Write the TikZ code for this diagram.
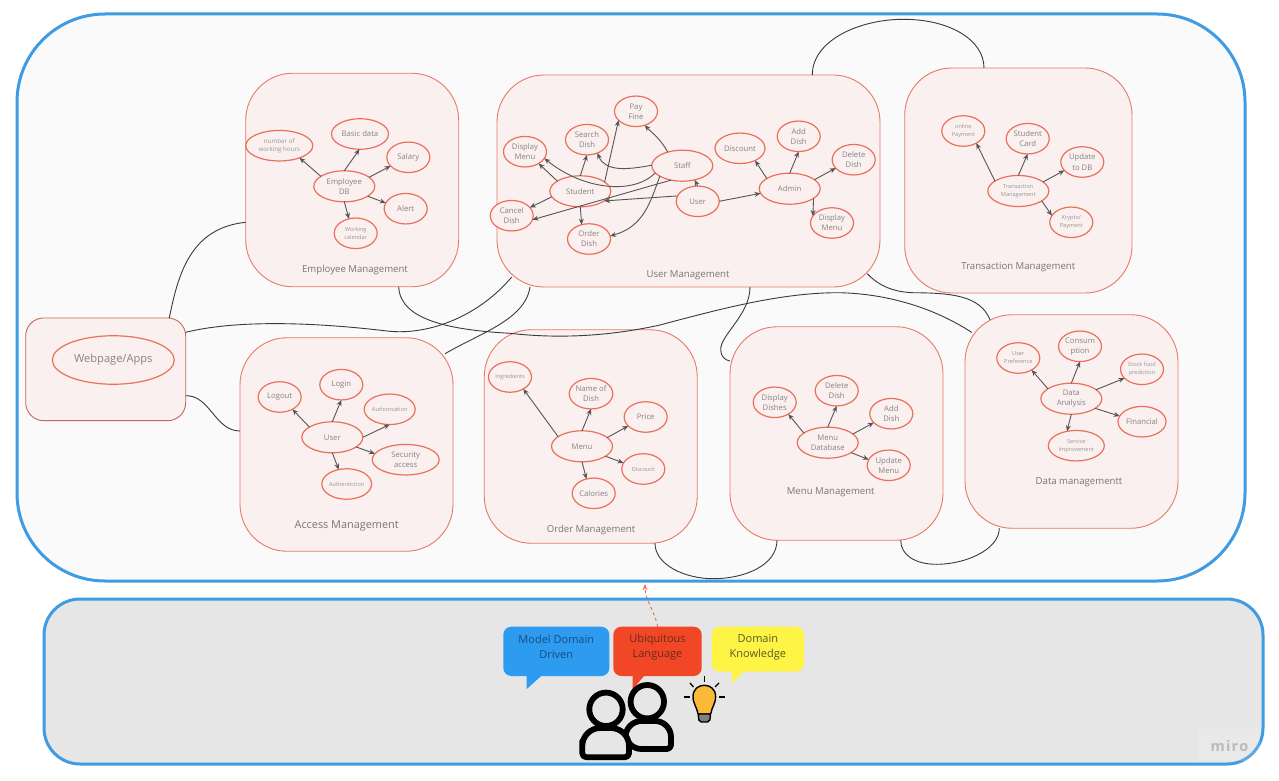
\documentclass[tikz,border=0pt]{standalone}
\usepackage{fontspec}
\setmainfont{Open Sans}
\usetikzlibrary{shapes.geometric,arrows.meta}
\definecolor{frameblue}{HTML}{3F9BE2}
\definecolor{panelfill}{HTML}{FAFAFA}
\definecolor{basefill}{HTML}{E6E6E6}
\definecolor{boxline}{HTML}{E97A68}
\definecolor{boxfill}{HTML}{F9F0EF}
\definecolor{elline}{HTML}{EC6F5C}
\definecolor{txtgray}{HTML}{878383}
\definecolor{arrowgray}{HTML}{555555}
\definecolor{wire}{HTML}{3A3A3A}
\definecolor{bubblueC}{HTML}{2D9BF0}
\definecolor{bubredC}{HTML}{F24726}
\definecolor{bubyelC}{HTML}{FEF445}
\definecolor{bulbC}{HTML}{FBB938}
\definecolor{txtblue}{HTML}{1A4C80}
\definecolor{txtred}{HTML}{6B2A1C}
\definecolor{txtyel}{HTML}{5E5A22}
\tikzset{
  framebox/.style={draw=frameblue,line width=3pt,rectangle,inner sep=0pt,outer sep=0pt},
  boxnode/.style={draw=boxline,fill=boxfill,line width=0.9pt,rectangle,rounded corners=47pt,inner sep=0pt,outer sep=0pt,minimum width=213pt,minimum height=213.5pt},
  ell/.style={draw=elline,fill=boxfill,line width=1.2pt,ellipse,inner sep=0pt,outer sep=0pt,minimum width=43pt,minimum height=30.5pt,text=txtgray,align=center,font=\fontsize{7.7}{10}\selectfont},
  ellbig/.style={ell,minimum width=61pt,minimum height=31pt},
  tiny/.style={font=\fontsize{5.6}{8}\selectfont,text=txtgray!85!white},
  titlelab/.style={text=txtgray!90!black,inner sep=0pt,font=\fontsize{9.6}{12}\selectfont},
  arr/.style={draw=arrowgray,line width=0.9pt,-{Stealth[length=6pt,width=5pt]}},
  wireline/.style={draw=wire,line width=0.9pt},
  bubble/.style={rectangle,rounded corners=8pt,inner sep=0pt,outer sep=0pt},
  bubtext/.style={inner sep=0pt,align=center,font=\fontsize{11}{15.3}\selectfont},
  person/.style={draw=black,fill=basefill,line width=5.8pt,line join=round},
  ray/.style={draw=black,line width=1.3pt}
}
\begin{document}
\begin{tikzpicture}[x=1pt,y=-1pt]
\useasboundingbox (0,0) rectangle (1279,781);
\fill[white] (0,0) rectangle (1279,781);
% frames
\node[framebox,fill=panelfill,rounded corners=88pt,minimum width=1228pt,minimum height=567pt] (outer) at (631,297.5) {};
\node[framebox,fill=basefill,rounded corners=36pt,minimum width=1219pt,minimum height=165pt] (base) at (653.5,681.5) {};
% miro mark
\node[fill=white,fill opacity=0.15,minimum width=62pt,minimum height=32pt,inner sep=0pt] (miropatch) at (1229,745) {};
\node[text=black!27,inner sep=0pt,font=\fontsize{14.5}{16}\bfseries\selectfont] (miro) at (1229.5,746) {m\kern1.2pt i\kern1.2pt r\kern1.2pt o};
% containers
\node[boxnode,rounded corners=18pt,draw=boxline!85!black,minimum width=160pt,minimum height=102.7pt] (web) at (105.7,369.3) {};
\node[boxnode] (emp) at (352.2,180) {};
\node[boxnode,minimum width=383pt,minimum height=212pt] (usr) at (688.5,181) {};
\node[boxnode,minimum width=227.3pt,minimum height=225pt] (trn) at (1018.35,180.5) {};
\node[boxnode] (dat) at (1071.5,421.5) {};
\node[boxnode] (ord) at (590.75,436.5) {};
\node[boxnode] (mnu) at (836.5,433.5) {};
\node[boxnode] (acc) at (346.5,444.5) {};
% webpage
\node[ell,minimum width=122pt,minimum height=48.5pt,font=\fontsize{11.1}{14}\selectfont] (webel) at (113.3,360) {Webpage/Apps};
% titles
\node[titlelab] (t1) at (355,270) {Employee Management};
\node[titlelab] (t2) at (688,275) {User Management};
\node[titlelab] (t3) at (1018.3,267) {Transaction Management};
\node[titlelab] (t4) at (1079,482) {Data managementt};
\node[titlelab] (t5) at (591,530) {Order Management};
\node[titlelab] (t6) at (830.7,492) {Menu Management};
\node[titlelab,font=\fontsize{10.9}{12}\selectfont] (t7) at (346.7,525.5) {Access Management};
% employee
\node[ellbig] (e0) at (344.3,186.3) {Employee\\DB};
\node[ell,tiny,font=\fontsize{6.2}{8}\selectfont,minimum width=67pt] (e1) at (279.3,145.7) {number of\\working hours};
\node[ell,minimum width=57pt] (e2) at (360,134) {Basic data};
\node[ell] (e3) at (408.3,157.3) {Salary};
\node[ell] (e4) at (405.7,208.7) {Alert};
\node[ell,tiny] (e5) at (355.7,233.3) {Working\\calendar};
\draw[arr] (e0.157) -- (e1.-31);
\draw[arr] (e0.90) -- (e2.-92);
\draw[arr] (e0.20) -- (e3.-154);
\draw[arr] (e0.-23) -- (e4.164);
\draw[arr] (e0.-90) -- (e5.115);
% user management
\node[ell] (u1) at (636,111.3) {Pay\\Fine};
\node[ell] (u2) at (587,139.7) {Search\\Dish};
\node[ell] (u3) at (525,151.7) {Display\\Menu};
\node[ell] (u6) at (511.7,215.7) {Cancel\\Dish};
\node[ell] (u7) at (589,239) {Order\\Dish};
\node[ellbig] (us) at (580.3,191.3) {Student};
\node[ellbig] (uf) at (682.3,165.7) {Staff};
\node[ell] (uu) at (697.7,201.3) {User};
\node[ell,minimum width=50pt] (u8) at (740,148.3) {Discount};
\node[ell] (u9) at (798.7,136.3) {Add\\Dish};
\node[ell] (u10) at (853.7,159.7) {Delete\\Dish};
\node[ellbig] (ua) at (789.7,188.7) {Admin};
\node[ell] (u11) at (832,223) {Display\\Menu};
\draw[arr] (us.156) -- (u3.-41);
\draw[arr] (us.90) -- (u2.-90);
\draw[arr] (us.21) -- (u1.-153);
\draw[arr] (us.191) -- (u6.24);
\draw[arr] (us.-90) -- (u7.117);
\draw[arr] (uf.137) .. controls (660,138) and (652,133) .. (u1.-58);
\draw[arr] (uf.179) .. controls (626.7,170) and (605,171.7) .. (u2.-52);
\draw[arr] (uf.195) .. controls (633.3,195) and (583.3,190) .. (u3.-19);
\draw[arr] (uf.232) -- (u6.-11);
\draw[arr] (uf.205) .. controls (650,203.3) and (643.3,226.7) .. (u7.8);
\draw[arr] (uu.90) -- (uf.-49);
\draw[arr] (uu.165) -- (us.-22);
\draw[arr] (uu.0) -- (ua.189);
\draw[arr] (ua.156) -- (u8.-39);
\draw[arr] (ua.90) -- (u9.-90);
\draw[arr] (ua.20) -- (u10.205);
\draw[arr] (ua.-22) -- (u11.160);
% transaction
\node[ellbig,tiny] (r0) at (1018.3,191) {Transaction\\Management};
\node[ell,tiny] (r1) at (963.3,131) {online\\Payment};
\node[ell] (r2) at (1027.7,138.7) {Student\\Card};
\node[ell,font=\fontsize{7.7}{10.8}\selectfont] (r3) at (1082.3,162) {Update\\to DB};
\node[ell,tiny] (r4) at (1071.3,222.3) {Krypto/\\Payment};
\draw[arr] (r0.157) -- (r1.-43);
\draw[arr] (r0.90) -- (r2.-90);
\draw[arr] (r0.20) -- (r3.205);
\draw[arr] (r0.-23) -- (r4.161);
% data
\node[ellbig] (d0) at (1071.3,398.7) {Data\\Analysis};
\node[ell,tiny] (d1) at (1018.3,358) {User\\Preference};
\node[ell] (d2) at (1080,346.3) {Consum\\ption};
\node[ell,tiny] (d3) at (1142,369.3) {Stock food\\prediction};
\node[ell,minimum width=48pt] (d4) at (1142,421.7) {FInancial};
\node[ell,tiny,minimum width=56pt] (d5) at (1076.3,445.7) {Service\\Improvement};
\draw[arr] (d0.157) -- (d1.-42);
\draw[arr] (d0.90) -- (d2.-90);
\draw[arr] (d0.20) -- (d3.207);
\draw[arr] (d0.-22) -- (d4.166);
\draw[arr] (d0.-90) -- (d5.123);
% order
\node[ellbig] (o0) at (582,446.3) {Menu};
\node[ell,tiny] (o1) at (510,377) {Ingredients};
\node[ell] (o2) at (591,393.7) {Name of\\Dish};
\node[ell] (o3) at (645.7,417) {Price};
\node[ell,tiny] (o4) at (643.3,469) {Discount};
\node[ell] (o5) at (593.7,493.3) {Calories};
\draw[arr] (o0.158) -- (o1.-42);
\draw[arr] (o0.90) -- (o2.-90);
\draw[arr] (o0.19) -- (o3.207);
\draw[arr] (o0.-23) -- (o4.163);
\draw[arr] (o0.-90) -- (o5.117);
% menu
\node[ellbig] (m0) at (827.7,442.7) {Menu\\Database};
\node[ell] (m1) at (774.7,402.3) {Display\\Dishes};
\node[ell] (m2) at (836.7,390.7) {Delete\\Dish};
\node[ell] (m3) at (891.3,413.7) {Add\\Dish};
\node[ell] (m4) at (888.7,465.3) {Update\\Menu};
\draw[arr] (m0.158) -- (m1.-41);
\draw[arr] (m0.90) -- (m2.-90);
\draw[arr] (m0.19) -- (m3.207);
\draw[arr] (m0.-23) -- (m4.164);
% access
\node[ellbig] (a0) at (332.3,437.3) {User};
\node[ell] (a1) at (279.7,397) {Logout};
\node[ell] (a2) at (341.3,384.7) {Login};
\node[ell,tiny,minimum width=51pt] (a3) at (389.7,409.3) {Authorisation};
\node[ell,minimum width=67pt] (a4) at (405.7,459.7) {Security\\access};
\node[ell,tiny,minimum width=49pt] (a5) at (346.7,484) {Authentiction};
\draw[arr] (a0.156) -- (a1.-44);
\draw[arr] (a0.90) -- (a2.-90);
\draw[arr] (a0.0) -- (a3.-90);
\draw[arr] (a0.-22) -- (a4.169);
\draw[arr] (a0.-90) -- (a5.119);
% connectors between containers
\draw[wireline] ([xshift=-16.4pt]web.north east) .. controls (178,275) and (190,228) .. ([yshift=-42.3pt]emp.west);
\draw[wireline] ([yshift=37pt]web.east) .. controls (240,319) and (320,323) .. (387,331) .. controls (430,336) and (480,315) .. ([xshift=14.7pt,yshift=10pt]usr.south west);
\draw[wireline] ([yshift=-26.4pt]web.east) .. controls (210,395) and (215,431) .. ([yshift=13.5pt]acc.west);
\draw[wireline] ([xshift=46.5pt]emp.south) .. controls (400,320) and (450,330) .. (510,333.3) .. controls (560,339) and (610,336) .. (660,325) .. controls (720,309) and (780,293) .. (836.7,292.7) .. controls (880,293) and (930,305) .. ([xshift=6.7pt,yshift=-17.7pt]dat.north west);
\draw[wireline] ([xshift=-8pt,yshift=-16pt]acc.north east) .. controls (480,333) and (525,320) .. ([xshift=33pt]usr.south west);
\draw[wireline] ([xshift=61.5pt]usr.south) .. controls (750,315) and (720,335) .. (720.7,350) .. controls (721,357) and (725,360) .. ([yshift=72.5pt]mnu.west);
\draw[wireline] ([xshift=-12.7pt,yshift=13.3pt]usr.south east) .. controls (880,287) and (895,292) .. (913,292.7) .. controls (950,293) and (980,295) .. ([xshift=25pt,yshift=-5pt]dat.north west);
\draw[wireline] ([xshift=123.8pt]usr.north) .. controls (812.3,40) and (860,19.3) .. (903.3,19.3) .. controls (950,19.3) and (984,40) .. ([xshift=-34.35pt]trn.north);
\draw[wireline] ([xshift=64.25pt]ord.south) .. controls (655,565) and (685,578.7) .. (713.3,578.7) .. controls (745,578.7) and (777,565) .. ([xshift=-59.5pt]mnu.south);
\draw[wireline] ([xshift=64.2pt]mnu.south) .. controls (900.7,555) and (915,564.3) .. (936.7,564.3) .. controls (965,564.3) and (999,550) .. ([xshift=-72.2pt]dat.south);
% bubbles
\node[bubble,fill=bubblueC,minimum width=106pt,minimum height=49.3pt] (bb) at (556.3,651.35) {};
\fill[bubblueC] (526.7,672) -- (526.7,689) -- (542.3,675) -- cycle;
\node[bubble,fill=bubredC,minimum width=88.4pt,minimum height=49.3pt] (br) at (657.5,651.35) {};
\fill[bubredC] (632.7,672) -- (632.7,689) -- (645,675) -- cycle;
\node[bubble,fill=bubyelC,minimum width=92.3pt,minimum height=45pt] (by) at (757.85,649.2) {};
\fill[bubyelC] (731.7,668) -- (731.7,683.3) -- (744,671) -- cycle;
\node[bubtext,text=txtblue] (bbt) at (556.3,647) {Model Domain\\Driven};
\node[bubtext,text=txtred] (brt) at (657.5,647) {Ubiquitous\\Language};
\node[bubtext,text=txtyel] (byt) at (757.85,647) {Domain\\Knowledge};
% dashed link
\coordinate (linktip) at (645,584);
\draw[draw=elline,line width=1pt,dashed,-{Stealth[length=6pt,width=5pt]}] ([xshift=0.2pt]br.north) .. controls (655,612) and (645,600) .. (linktip);
% people
\draw[person] [rounded corners=4pt] (625.5,749) -- (671,749) [rounded corners=16pt] -- (671,721) -- (625.5,721) -- (625.5,749) -- cycle;
\draw[person] (647.3,701.7) circle[radius=16.7];
\draw[person] [rounded corners=4pt] (582.3,757.2) -- (582.3,745) [rounded corners=18pt] -- (582.3,728) -- (629,728) [rounded corners=4pt] -- (629,757.2) -- cycle;
\draw[person] (606,709.3) circle[radius=16.7];
% bulb
\foreach \nm/\ax/\ay/\bx/\by in {ra/704.3/676/704.3/681.7,rb/684/697/689.5/697,rc/719/697/725/697,rd/690/683/693.5/687,re/719/683/715/687}{
  \draw[ray] (\ax,\ay) -- (\bx,\by);
}
\draw[fill=bulbC,draw=black,line width=1.4pt] (698,714) .. controls (697,707) and (693,704) .. (693,696.5) .. controls (693,681.5) and (715.6,681.5) .. (715.6,696.5) .. controls (715.6,704) and (711.7,707) .. (710.7,714) -- cycle;
\draw[fill=gray,draw=black,line width=1.4pt,rounded corners=2pt] (698,714) -- (710.7,714) -- (709.5,722) -- (699.2,722) -- cycle;
\end{tikzpicture}
\end{document}
